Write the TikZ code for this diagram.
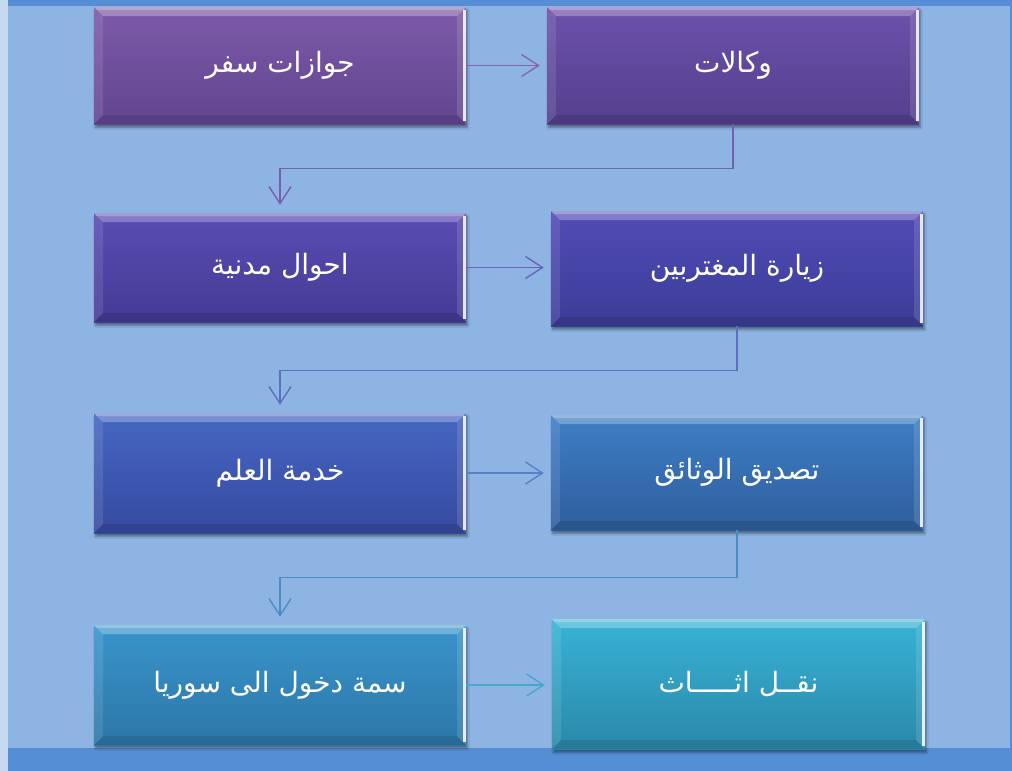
\documentclass[tikz,border=0pt]{standalone}
\usepackage{fontspec}
\newfontfamily\arabicfont[Script=Arabic]{DejaVu Sans}
\TeXXeTstate=1
\usetikzlibrary{arrows.meta,shadows.blur,calc}
\definecolor{bgc}{HTML}{8EB4E3}
\definecolor{leftc}{HTML}{C6D9F1}
\definecolor{stripc}{HTML}{558ED5}
\definecolor{t1}{HTML}{7D5AA9}\definecolor{u1}{HTML}{614590}
\definecolor{t2}{HTML}{6D51AB}\definecolor{u2}{HTML}{53408E}
\definecolor{t3}{HTML}{5A4DB4}\definecolor{u3}{HTML}{433B94}
\definecolor{t4}{HTML}{514BB6}\definecolor{u4}{HTML}{3B3D97}
\definecolor{t5}{HTML}{4667C3}\definecolor{u5}{HTML}{36499F}
\definecolor{t6}{HTML}{3F7EC5}\definecolor{u6}{HTML}{2E5E9D}
\definecolor{t7}{HTML}{3995CB}\definecolor{u7}{HTML}{2C76A7}
\definecolor{t8}{HTML}{37B2D6}\definecolor{u8}{HTML}{2A89A9}
\definecolor{a1}{HTML}{8466B0}
\definecolor{a2}{HTML}{7460AD}
\definecolor{a3}{HTML}{6A62BC}
\definecolor{a4}{HTML}{5F6FC0}
\definecolor{a5}{HTML}{5A7FC9}
\definecolor{a6}{HTML}{4A8CC4}
\definecolor{a7}{HTML}{46A9CC}
\tikzset{
  bx/.style 2 args={rectangle, draw=none, inner sep=0pt, minimum width=372pt,
    top color=#1, bottom color=#2, text=white,
    font=\arabicfont\fontsize{28}{32}\selectfont,
    blur shadow={shadow xshift=1.5pt, shadow yshift=-3.5pt, shadow blur steps=6, shadow opacity=40},
    path picture={
      \coordinate (nw) at (path picture bounding box.north west);
      \coordinate (ne) at (path picture bounding box.north east);
      \coordinate (sw) at (path picture bounding box.south west);
      \coordinate (se) at (path picture bounding box.south east);
      \fill[white,fill opacity=0.28] (nw) -- (ne) -- ([shift={(-9pt,-9pt)}]ne) -- ([shift={(9pt,-9pt)}]nw) -- cycle;
      \fill[white,fill opacity=0.25] (nw) -- (ne) -- ([shift={(-3pt,-3pt)}]ne) -- ([shift={(3pt,-3pt)}]nw) -- cycle;
      \fill[white,fill opacity=0.10] (nw) -- ([shift={(9pt,-9pt)}]nw) -- ([shift={(9pt,9pt)}]sw) -- (sw) -- cycle;
      \fill[black,fill opacity=0.10] (sw) -- ([shift={(9pt,9pt)}]sw) -- ([shift={(-9pt,9pt)}]se) -- (se) -- cycle;
      \fill[white,fill opacity=0.12] (ne) -- ([shift={(-9pt,-9pt)}]ne) -- ([shift={(-9pt,9pt)}]se) -- (se) -- cycle;
      \fill[white,fill opacity=0.85] ([shift={(-3pt,-3pt)}]ne) rectangle ([shift={(0pt,3pt)}]se);
    }},
  conn/.style={draw=#1, line width=1.4pt,
    -{Straight Barb[length=17pt,width=22pt,line width=1.4pt]}}
}
\begin{document}
\begin{tikzpicture}[x=1pt,y=-1pt]
\useasboundingbox (0,0) rectangle (1012,771);
\fill[bgc] (0,0) rectangle (1012,771);
\fill[leftc] (0,0) rectangle (8,771);
\fill[stripc] (8,0) rectangle (1012,6);
\fill[stripc] (8,748) rectangle (1012,771);
\fill[stripc] (1010,0) rectangle (1012,771);

\node[bx={t1}{u1}, minimum height=117pt] (b1) at (280,65.5) {\beginR جوازات سفر\endR};
\node[bx={t2}{u2}, minimum height=117pt] (b2) at (733,65.5) {\beginR وكالات\endR};
\node[bx={t3}{u3}, minimum height=109pt] (b3) at (280,267.5) {\beginR احوال مدنية\endR};
\node[bx={t4}{u4}, minimum height=115pt] (b4) at (737,268.5) {\beginR زيارة المغتربين\endR};
\node[bx={t5}{u5}, minimum height=120pt] (b5) at (280,473) {\beginR خدمة العلم\endR};
\node[bx={t6}{u6}, minimum height=115pt] (b6) at (737,472.5) {\beginR تصديق الوثائق\endR};
\node[bx={t7}{u7}, minimum height=120pt] (b7) at (280,685) {\beginR سمة دخول الى سوريا\endR};
\node[bx={t8}{u8}, minimum height=130pt, minimum width=373pt] (b8) at (738.5,684) {\beginR نقــل اثـــــاث\endR};

\draw[conn=a1, shorten >=7pt] (b1.east) -- (b2.west);
\draw[conn=a2, shorten >=8pt] (b2.south) -- ++(0,44) -| (b3.north);
\draw[conn=a3, shorten >=7pt] (b3.east) -- (b4.west |- b3.east);
\draw[conn=a4, shorten >=8pt] (b4.south) -- ++(0,44) -| (b5.north);
\draw[conn=a5, shorten >=7pt] (b5.east) -- (b6.west |- b5.east);
\draw[conn=a6, shorten >=8pt] (b6.south) -- ++(0,47) -| (b7.north);
\draw[conn=a7, shorten >=7pt] (b7.east) -- (b8.west |- b7.east);
\end{tikzpicture}
\end{document}
